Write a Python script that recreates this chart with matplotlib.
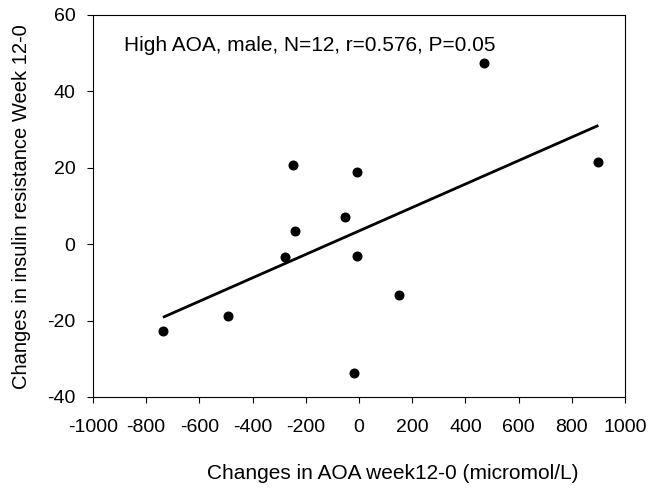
import numpy as np
import matplotlib
matplotlib.use("Agg")
import matplotlib.pyplot as plt

plt.rcParams['font.family'] = ['Liberation Sans', 'DejaVu Sans']
plt.rcParams['axes.unicode_minus'] = False

# change in AOA (micromol/L) vs change in insulin resistance, week 12 - week 0
aoa_change = [-737, -494, -278, -249, -241, -53, -6, -8, -20, 152, 470, 900]
ir_change = [-22.6, -18.7, -3.3, 20.7, 3.5, 7.2, 18.8, -3.1, -33.8, -13.4, 47.4, 21.6]
xticks = [-1000, -800, -600, -400, -200, 0, 200, 400, 600, 800, 1000]
yticks = [-40, -20, 0, 20, 40, 60]

x = np.array(aoa_change)
y = np.array(ir_change)
slope, intercept = np.polyfit(x, y, 1)
xfit = np.array([x.min(), x.max()])

fig = plt.figure(figsize=(6.52, 4.88), dpi=100)
ax = fig.add_axes([0.1426, 0.1865, 0.816, 0.7828])

ax.plot(xfit, slope * xfit + intercept, color='black', linewidth=2.0, solid_capstyle='butt')
ax.plot(x, y, 'o', color='black', markersize=6.2)

ax.set_xlim(-1000, 1000)
ax.set_ylim(-40, 60)
ax.set_xticks(xticks)
ax.set_yticks(yticks)
ax.tick_params(direction='out', length=4.5, width=0.8, labelsize=14, top=False, right=False)
ax.tick_params(axis='x', pad=11)
ax.tick_params(axis='y', pad=8)
for s in ax.spines.values():
    s.set_linewidth(0.8)

ax.text(-882, 50.65, 'High AOA, male, N=12, r=0.576, P=0.05', fontsize=15, va='baseline', ha='left')

fig.text(393 / 652, 1 - 479 / 488, 'Changes in AOA week12-0 (micromol/L)', fontsize=15, ha='center', va='baseline')
fig.text(22 / 652, 1 - 207 / 488, 'Changes in insulin resistance Week 12-0', fontsize=14.5, ha='center', va='center', rotation=90)

fig.savefig('out.png', dpi=100)
